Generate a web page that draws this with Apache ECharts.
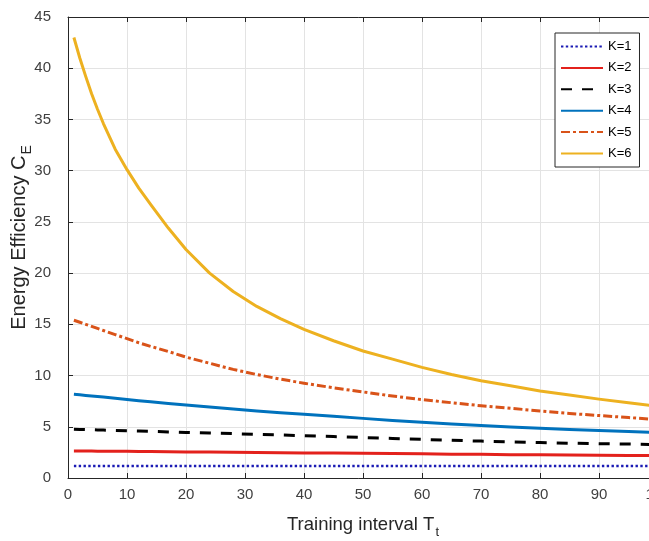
<!DOCTYPE html>
<html>
<head>
<meta charset="utf-8">
<script src="https://cdn.jsdelivr.net/npm/echarts@6/dist/echarts.min.js"></script>
<style>
  html, body { margin: 0; padding: 0; background: #fff; }
  #chart { width: 649px; height: 541px; }
</style>
</head>
<body>
<div id="chart"></div>
<script>
// training interval T_t where values were read
const tValues = [1, 2, 3, 4, 5, 6, 8, 10, 12, 14, 17, 20, 24, 28, 32, 36, 40, 45, 50, 55, 60, 65, 70, 75, 80, 85, 90, 95, 100]

// energy efficiency C_E for each K
const k1 = [1.18, 1.18, 1.18, 1.18, 1.18, 1.18, 1.18, 1.18, 1.18, 1.18, 1.18, 1.18, 1.18, 1.18, 1.18,
  1.18, 1.18, 1.18, 1.18, 1.18, 1.18, 1.18, 1.18, 1.18, 1.18, 1.18, 1.18, 1.18, 1.18]
const k2 = [2.64, 2.64, 2.63, 2.63, 2.62, 2.62, 2.61, 2.6, 2.59, 2.58, 2.56, 2.55, 2.53, 2.51, 2.49,
  2.47, 2.45, 2.43, 2.41, 2.38, 2.36, 2.33, 2.31, 2.28, 2.26, 2.24, 2.22, 2.2, 2.18]
const k3 = [4.75, 4.74, 4.72, 4.71, 4.69, 4.68, 4.64, 4.61, 4.58, 4.55, 4.5, 4.45, 4.39, 4.33, 4.26,
  4.2, 4.13, 4.04, 3.95, 3.86, 3.77, 3.68, 3.6, 3.53, 3.46, 3.4, 3.35, 3.31, 3.27]
const k4 = [8.17, 8.12, 8.06, 8.0, 7.95, 7.9, 7.78, 7.66, 7.55, 7.44, 7.28, 7.12, 6.92, 6.73, 6.55,
  6.38, 6.22, 6.03, 5.82, 5.62, 5.45, 5.28, 5.12, 4.98, 4.86, 4.74, 4.63, 4.53, 4.44]
const k5 = [15.4, 15.2, 15.0, 14.8, 14.6, 14.4, 14.0, 13.6, 13.2, 12.85, 12.35, 11.8, 11.2, 10.6, 10.1,
  9.65, 9.25, 8.8, 8.4, 8.0, 7.65, 7.35, 7.05, 6.8, 6.55, 6.3, 6.1, 5.9, 5.7]
const k6 = [43.0, 41.0, 39.2, 37.5, 36.0, 34.6, 32.1, 30.1, 28.3, 26.7, 24.4, 22.3, 20.0, 18.2, 16.75,
  15.55, 14.5, 13.4, 12.4, 11.6, 10.8, 10.1, 9.5, 9.0, 8.5, 8.1, 7.7, 7.35, 7.0]

const seriesNames = ['K=1', 'K=2', 'K=3', 'K=4', 'K=5', 'K=6']
const xTicks = { min: 0, max: 100, interval: 10 }
const yTicks = { min: 0, max: 45, interval: 5 }

const font = "'Liberation Sans', Arial, sans-serif"
const axisColor = '#262626'

function pairs(ys) {
  return tValues.map((t, i) => [t, ys[i]])
}

function makeLine(name, ys, color, width, type) {
  return {
    name: name,
    type: 'line',
    data: pairs(ys),
    showSymbol: false,
    symbol: 'none',
    smooth: false,
    lineStyle: { color: color, width: width, type: type, cap: 'butt', join: 'round' },
    itemStyle: { color: color },
    emphasis: { disabled: true }
  }
}

const chart = echarts.init(document.getElementById('chart'))

const option = {
  animation: false,
  backgroundColor: '#fff',
  textStyle: { fontFamily: font },
  grid: { left: 68, top: 17, width: 590, height: 461, containLabel: false, outerBoundsMode: 'none' },
  legend: {
    data: seriesNames,
    orient: 'vertical',
    left: 555,
    top: 33,
    itemWidth: 42,
    itemHeight: 14,
    itemGap: 8.4,
    padding: [7, 8, 7, 5],
    backgroundColor: '#fff',
    borderColor: axisColor,
    borderWidth: 1,
    borderRadius: 0,
    itemStyle: { color: 'transparent', borderWidth: 0, opacity: 0 },
    textStyle: { fontSize: 13, color: '#000', fontFamily: font }
  },
  xAxis: [
    {
      type: 'value',
      min: xTicks.min,
      max: xTicks.max,
      interval: xTicks.interval,
      name: 'Training interval T{sub|t}',
      nameLocation: 'middle',
      nameGap: 33,
      nameMoveOverlap: false,
      nameTextStyle: {
        fontSize: 18.5,
        color: axisColor,
        fontFamily: font,
        rich: { sub: { fontSize: 13, color: axisColor, padding: [15, 0, 0, 1] } }
      },
      axisLine: { show: true, lineStyle: { color: axisColor, width: 1 } },
      axisTick: { show: true, inside: true, length: 5, lineStyle: { color: axisColor } },
      axisLabel: { fontSize: 15, color: '#404040', margin: 9, fontFamily: font },
      splitLine: { show: true, lineStyle: { color: '#e3e3e3', width: 1 } }
    },
    {
      type: 'value',
      position: 'top',
      min: xTicks.min,
      max: xTicks.max,
      interval: xTicks.interval,
      axisLine: { show: true, onZero: false, lineStyle: { color: axisColor, width: 1 } },
      axisTick: { show: true, inside: true, length: 5, lineStyle: { color: axisColor } },
      axisLabel: { show: false },
      splitLine: { show: false }
    }
  ],
  yAxis: {
    type: 'value',
    min: yTicks.min,
    max: yTicks.max,
    interval: yTicks.interval,
    name: 'Energy Efficiency C{sub|E}',
    nameLocation: 'middle',
    nameGap: 34,
    nameMoveOverlap: false,
    nameTextStyle: {
      fontSize: 20,
      color: axisColor,
      fontFamily: font,
      padding: [0, 0, 0, 20],
      rich: { sub: { fontSize: 14, color: axisColor, padding: [16, 0, 0, 1] } }
    },
    axisLine: { show: true, lineStyle: { color: axisColor, width: 1 } },
    axisTick: { show: true, inside: true, length: 5, lineStyle: { color: axisColor } },
    axisLabel: { fontSize: 15, color: '#404040', margin: 17, fontFamily: font },
    splitLine: { show: true, lineStyle: { color: '#e3e3e3', width: 1 } }
  },
  series: [
    makeLine(seriesNames[0], k1, '#1a1ab4', 2.5, [2.4, 2.4]),
    makeLine(seriesNames[1], k2, '#e3211c', 3, 'solid'),
    makeLine(seriesNames[2], k3, '#000000', 3, [11, 10]),
    makeLine(seriesNames[3], k4, '#0072BD', 3, 'solid'),
    makeLine(seriesNames[4], k5, '#D95319', 3, [9, 3, 3, 3]),
    makeLine(seriesNames[5], k6, '#EDB120', 3, 'solid')
  ]
}

chart.setOption(option)
</script>
</body>
</html>
